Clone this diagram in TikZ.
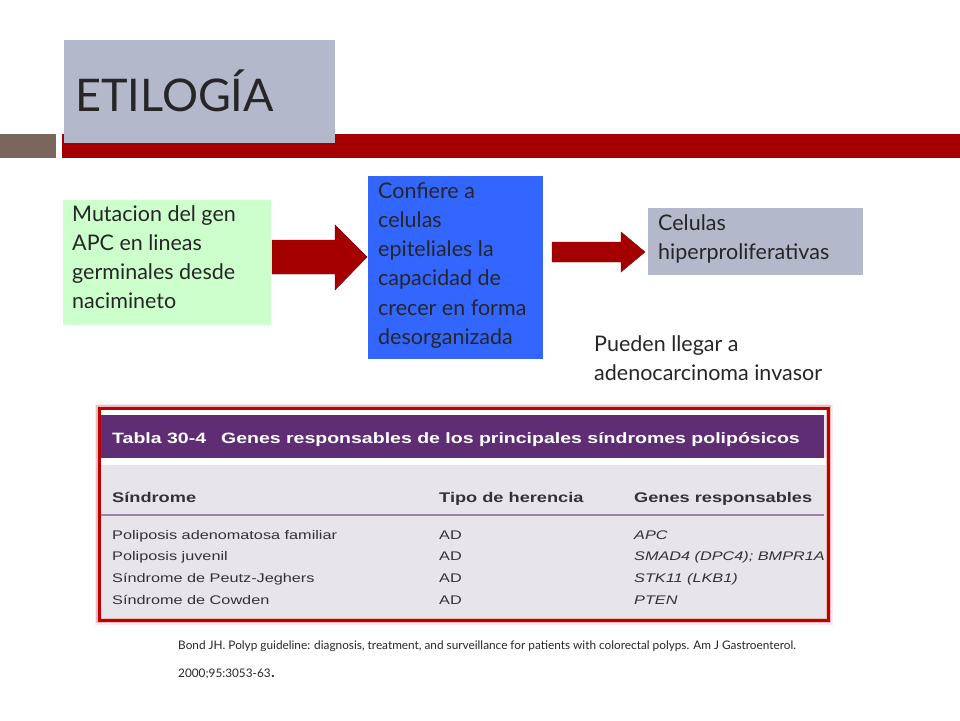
\documentclass[tikz,border=0pt]{standalone}
\usepackage{fontspec}
\setmainfont{Lato}
\newfontfamily\tabfont[FakeStretch=1.3]{Liberation Sans}
\definecolor{titlegray}{HTML}{B3B9CA}
\definecolor{barred}{HTML}{A50000}
\definecolor{barbrown}{HTML}{7A665A}
\definecolor{greenbox}{HTML}{CCFFCC}
\definecolor{bluebox}{HTML}{3366FF}
\definecolor{tabpurple}{HTML}{5E2D74}
\definecolor{tabbg}{HTML}{E7E4EA}
\definecolor{txt}{HTML}{262626}
\tikzset{
 body/.style={font=\fontsize{21.5}{29.3}\selectfont, text=txt, align=left, anchor=north west, inner sep=0pt},
 bigarrow/.style={fill=barred, draw=barred!70!black},
 tabtxt/.style={font=\tabfont\fontsize{12.5}{13}\selectfont, text=black!80, anchor=base west, inner sep=0pt},
 tabhead/.style={font=\tabfont\bfseries\fontsize{14}{14}\selectfont, text=black!80, anchor=base west, inner sep=0pt},
}
\begin{document}
\begin{tikzpicture}[x=1pt,y=-1pt]
\useasboundingbox (0,0) rectangle (960,720);
\fill[white] (0,0) rectangle (960,720);
% bars
\fill[barbrown] (0,134) rectangle (56,158);
\fill[barred] (62,134) rectangle (960,158);
\fill[titlegray] (64,40) rectangle (335,143);
\node[anchor=base west, inner sep=0pt, font=\fontsize{45}{45}\selectfont, text=txt] (title) at (75,111) {ETILOGÍA};
% boxes
\fill[greenbox] (63,200) rectangle (271,325);
\node[body] (mut) at (72,205) {Mutacion del gen\\APC en lineas\\germinales desde\\nacimineto};
\fill[bluebox] (368,176) rectangle (543,359);
\node[body] (conf) at (378,182) {Confiere a\\celulas\\epiteliales la\\capacidad de\\crecer en forma\\desorganizada};
\fill[titlegray] (648,208) rectangle (863,275);
\node[body] (cel) at (658,214) {Celulas\\hiperproliferativas};
\node[body] (pued) at (594,335) {Pueden llegar a\\adenocarcinoma invasor};
% arrows
\draw[bigarrow] (272,240) -- (335,240) -- (335,225) -- (367,257) -- (335,290) -- (335,274) -- (272,274) -- cycle;
\draw[bigarrow] (552,242) -- (621,242) -- (621,232) -- (645,252) -- (621,272) -- (621,262) -- (552,262) -- cycle;
% table
\foreach \w/\o in {9/8,6/20}{\draw[red!70!black, line width=\w pt, opacity=\o/100] (99,408) rectangle (828,620);}
\fill[tabbg] (101,410) rectangle (826,618);
\fill[white] (101,410) rectangle (826,415);
\fill[tabpurple] (101,415) rectangle (824,458);
\fill[white] (101,458) rectangle (826,465);
\node[anchor=base west, inner sep=0pt, font=\tabfont\bfseries\fontsize{15}{16}\selectfont, text=white] (tt) at (112,443) {Tabla 30-4\quad Genes responsables de los principales síndromes polipósicos};
\node[tabhead] (h1) at (112,502) {Síndrome};
\node[tabhead] (h2) at (439,502) {Tipo de herencia};
\node[tabhead] (h3) at (634,502) {Genes responsables};
\draw[tabpurple!60, line width=1.2pt] (101,515) -- (824,515);
\foreach \y/\a/\c in {539/Poliposis adenomatosa familiar/APC, 560/Poliposis juvenil/SMAD4 (DPC4); BMPR1A, 582/Síndrome de Peutz-Jeghers/STK11 (LKB1), 604/Síndrome de Cowden/PTEN}{
 \node[tabtxt] at (112,\y) {\a};
 \node[tabtxt] at (439,\y) {AD};
 \node[tabtxt, font=\tabfont\itshape\fontsize{12.5}{13}\selectfont] at (634,\y) {\c};
}
\draw[red!75!black, line width=3pt] (99,408) rectangle (828,620);
% citation
\node[anchor=base west, inner sep=0pt, font=\fontsize{11.8}{12}\selectfont, text=txt] (cit1) at (178,649) {Bond JH. Polyp guideline: diagnosis, treatment, and surveillance for patients with colorectal polyps. Am J Gastroenterol.};
\node[anchor=base west, inner sep=0pt, font=\fontsize{11.8}{12}\selectfont, text=txt] (cit2) at (178,677) {2000;95:3053-63{\fontsize{18}{18}\selectfont .}};
\end{tikzpicture}
\end{document}
